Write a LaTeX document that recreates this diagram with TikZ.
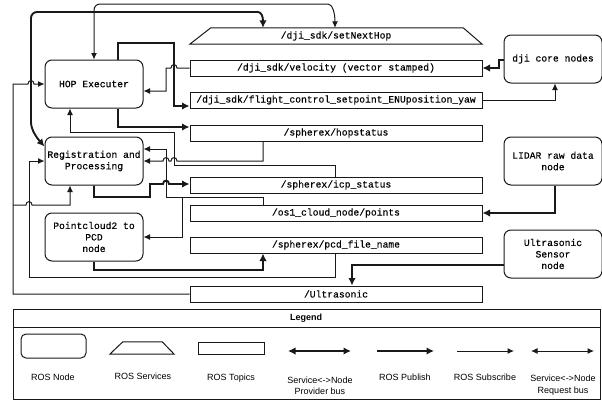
\documentclass[tikz,border=0pt]{standalone}
\usepackage{fontspec}
\setmainfont{Liberation Sans}
\newfontfamily\monofont[FakeBold=0.3]{Liberation Mono}
\usetikzlibrary{arrows.meta}
\begin{document}
\begin{tikzpicture}[x=1pt,y=-1pt,
  line join=miter,
  rosnode/.style={draw=black!90, line width=1pt, rounded corners=7pt, minimum width=98pt, minimum height=48pt, inner sep=0pt, align=center, font=\monofont\fontsize{9.7}{11.5}\selectfont},
  topic/.style={draw=black!90, line width=1pt, minimum width=292pt, minimum height=16pt, inner sep=0pt, font=\monofont\fontsize{9.7}{11.5}\selectfont},
  srvtext/.style={minimum width=292pt, minimum height=16pt, inner sep=0pt, font=\monofont\fontsize{9.7}{11.5}\selectfont},
  pub/.style={draw=black!90, line width=1.9pt, -{Latex[length=7.5pt,width=7.5pt]}},
  sub/.style={draw=black!90, line width=1pt, -{Latex[length=6.5pt,width=6pt]}},
  provbus/.style={draw=black!90, line width=1.9pt, {Latex[length=7.5pt,width=7.5pt]}-{Latex[length=7.5pt,width=7.5pt]}},
  reqbus/.style={draw=black!90, line width=1pt, {Latex[length=6.5pt,width=6pt]}-{Latex[length=6.5pt,width=6pt]}},
  lgtext/.style={font=\fontsize{9}{11.5}\selectfont, align=center, inner sep=0pt},
]
\useasboundingbox (0,0) rectangle (602,402);

% ROS nodes
\node[rosnode] (hop) at (94,84) {HOP Executer};
\node[rosnode] (reg) at (94,161) {Registration and\\Processing};
\node[rosnode] (pcd) at (94,237) {Pointcloud2 to\\PCD\\node};
\node[rosnode] (dji) at (553,59) {dji core nodes};
\node[rosnode] (lidar) at (553,161) {LIDAR raw data\\node};
\node[rosnode] (ultra) at (553,254) {Ultrasonic\\Sensor\\node};

% service
\node[srvtext] (srv) at (336,36) {/dji\_sdk/setNextHop};
\draw[black!90, line width=1pt] (srv.south west) -- ([xshift=21pt]srv.north west) -- ([xshift=-19pt]srv.north east) -- (srv.south east) -- cycle;

% topics
\node[topic] (vel) at (336,68) {/dji\_sdk/velocity (vector stamped)};
\node[topic] (flight) at (336,100) {/dji\_sdk/flight\_control\_setpoint\_ENUposition\_yaw};
\node[topic] (hops) at (336,133) {/spherex/hopstatus};
\node[topic] (icp) at (336,185) {/spherex/icp\_status};
\node[topic] (os1) at (336,213) {/os1\_cloud\_node/points};
\node[topic] (pcdf) at (336,245) {/spherex/pcd\_file\_name};
\node[topic] (ultt) at (336,294) {/Ultrasonic};

% service buses
\draw[reqbus, rounded corners=6pt] (hop.north) -- (94,4) -- (322,4) .. controls (332,4) and (335,12) .. ([xshift=-1pt]srv.north);
\draw[provbus, rounded corners=6pt] ([xshift=-73pt]srv.north) .. controls (263,16) and (261,12) .. (252,12) -- (31,12) -- (31,116) .. controls (31,130) and (37,138) .. ([yshift=-10pt]reg.north west);

% HOP executer
\draw[pub] ([xshift=24pt]hop.north) -- (118,43) -- (174,43) -- (174,106) -- ([yshift=-6pt]flight.west);
\draw[sub] (vel.west) -- (177,68) .. controls (177,63.5) and (171,63.5) .. (171,68) -- (166,68) -- (166,91) -- ([yshift=-7pt]hop.east);
\draw[pub] ([xshift=24pt]hop.south) -- (118,127) -- ([yshift=6pt]hops.west);
\draw[sub] ([xshift=-1pt]icp.north) -- (335,165) -- (174,165) -- (174,132) -- (70,132) -- ([xshift=-24pt]hop.south);

% registration
\draw[sub] ([xshift=-73pt]hops.south) -- (263,161) -- (177,161) .. controls (177,156.5) and (171,156.5) .. (171,161) -- (169,161) .. controls (169,156.5) and (163,156.5) .. (163,161) -- (reg.east);
\draw[pub] (reg.south) -- (94,197) -- (150,197) -- (150,184) -- (163,184) .. controls (163,179.5) and (169,179.5) .. (169,184) -- ([yshift=1pt]icp.west);
\draw[sub] ([xshift=-73pt]os1.north) -- (263,197) -- (166,197) -- (166,149) -- ([yshift=12pt]reg.east);
\coordinate (split) at (182,197);
\draw[sub] (split) -- (182,237) -- (pcd.east);
\draw[pub] (pcd.south) -- (94,270) -- (263,270) -- ([xshift=-73pt]pcdf.south);
\draw[sub] ([xshift=-1pt]pcdf.south) -- (335,277) -- (29,277) -- (29,161) -- (reg.west);

% ultrasonic
\draw[sub] (ultt.west) -- (13,294) -- (13,84) -- (28,84) .. controls (28,79.5) and (34,79.5) .. (34,84) -- (hop.west);
\coordinate (usplit) at (13,205);
\draw[sub] (usplit) -- (26,205) .. controls (26,200.5) and (32,200.5) .. (32,205) -- (70,205) -- ([xshift=-24pt]reg.south);
\draw[pub] ([yshift=-11pt]ultra.west) -- (352,265) -- ([xshift=16pt]ultt.north);

% right side
\draw[pub] ([yshift=-1pt]dji.west) -- (499,60) -- (499,68) -- (vel.east);
\draw[sub] (flight.east) -- (555,100) -- ([xshift=2pt]dji.south);
\draw[pub] ([xshift=2pt]lidar.south) -- (555,213) -- (os1.east);

% legend
\draw[black!90, line width=1pt] (13,309) rectangle (600,399);
\draw[black!90, line width=1pt] (13,327) -- (600,327);
\node[font=\bfseries\fontsize{9}{11}\selectfont] (lgtitle) at (306,318) {Legend};
\node[draw=black!90, line width=1pt, rounded corners=5pt, minimum width=65pt, minimum height=24pt] (lgnode) at (53.5,346) {};
\node[minimum width=64pt, minimum height=12pt, inner sep=0pt] (lgsrv) at (142,348) {};
\draw[black!90, line width=1pt] (lgsrv.south west) -- ([xshift=13pt]lgsrv.north west) -- ([xshift=-12pt]lgsrv.north east) -- (lgsrv.south east) -- cycle;
\node[draw=black!90, line width=1pt, minimum width=66pt, minimum height=12pt, inner sep=0pt] (lgtopic) at (231,348) {};
\coordinate (pa) at (288,351); \coordinate (pb) at (351,351);
\draw[provbus] (pa) -- (pb);
\coordinate (qa) at (377,351); \coordinate (qb) at (434,351);
\draw[pub] (qa) -- (qb);
\coordinate (ra) at (457,351); \coordinate (rb) at (514,351);
\draw[sub] (ra) -- (rb);
\coordinate (sa) at (531,351); \coordinate (sb) at (594,351);
\draw[reqbus] (sa) -- (sb);
\node[lgtext] (l1) at (53,377) {ROS Node};
\node[lgtext] (l2) at (143,376) {ROS Services};
\node[lgtext] (l3) at (231,378) {ROS Topics};
\node[lgtext] (l4) at (320,386) {Service<->Node\\Provider bus};
\node[lgtext] (l5) at (405,377) {ROS Publish};
\node[lgtext] (l6) at (485,377) {ROS Subscribe};
\node[lgtext] (l7) at (563,385) {Service<->Node\\Request bus};
\end{tikzpicture}
\end{document}
